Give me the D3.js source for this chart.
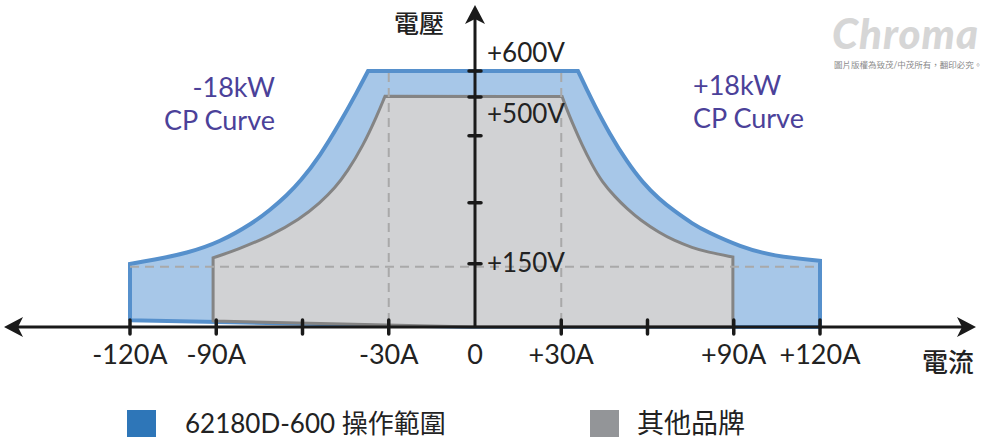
<!DOCTYPE html>
<html><head><meta charset="utf-8">
<script src="https://cdn.jsdelivr.net/npm/d3@7/dist/d3.min.js"></script>
<style>
html,body{margin:0;padding:0;background:#fff;}
svg{display:block;}
text{font-family:Lato,"Noto Sans CJK TC","Noto Sans",sans-serif;}
</style></head>
<body><svg id="chart" width="987" height="439"></svg>
<script>
// ---------- data ----------
const xTickValues = [-120, -90, -60, -30, 30, 60, 90, 120];
const xLabelValues = [-120, -90, -30, 0, 30, 90, 120];
const xLabelTexts = ["-120A", "-90A", "-30A", "0", "+30A", "+90A", "+120A"];
const yTickValues = [600, 539, 448, 291, 148];
const yLabelValues = [600, 500, 150];
const yLabelTexts = ["+600V", "+500V", "+150V"];

// 62180D-600 operating range (current A, voltage V)
const blueLeftI  = [-120, -112, -100.2, -88.7, -77.2, -71.3, -65.4, -60.9, -53.9, -47.0, -41.0, -37.2];
const blueLeftV  = [148, 157, 173, 199, 244, 274, 309, 340, 401, 478, 551, 600];
const blueRightI = [35.8, 39.3, 41.0, 47.0, 52.9, 58.1, 64.3, 68.9, 75.8, 80.7, 92.2, 103.7, 120];
const blueRightV = [600, 551, 527, 450, 387, 340, 298, 274, 241, 223, 188, 166, 155];
const blueBottomI = [120, 0, -120];
const blueBottomV = [0, 0, 16];

// other brands range
const grayLeftI  = [-91.1, -82.8, -71.3, -60.9, -53.9, -48.7, -44.5, -39.0, -34.1, -31.3];
const grayLeftV  = [162, 181, 213, 253, 291, 326, 363, 424, 495, 541];
const grayRightI = [30.3, 32.0, 33.7, 37.2, 40.7, 44.2, 48.7, 52.9, 57.4, 64.3, 68.9, 75.8, 80.7, 89.7];
const grayRightV = [540, 509, 481, 427, 380, 340, 305, 277, 251, 220, 204, 185, 176, 164];
const grayBottomI = [89.7, 0, -91.1];
const grayBottomV = [0, 0, 14];

const dashCurrents = [-30, 30];
const dashVoltage = 141;

const legendNames = ["62180D-600 操作範圍", "其他品牌"];
const legendColors = ["#2e76b8", "#939598"];

// ---------- drawing ----------
const svg = d3.select("#chart");
const x = d3.scaleLinear().domain([-120, 120]).range([130, 820]);
const y = d3.scaleLinear().domain([0, 600]).range([327, 71]);

const zip = (a, b) => a.map((v, i) => [v, b[i]]);
const curveGen = d3.line().x(d => x(d[0])).y(d => y(d[1])).curve(d3.curveBasis);
const linGen = d3.line().x(d => x(d[0])).y(d => y(d[1]));

function regionPath(leftPts, rightPts, bottomPts) {
  const start = [leftPts[0][0], bottomPts[bottomPts.length - 1][1]];
  let p = "M" + x(start[0]) + "," + y(start[1]);
  p += curveGen(leftPts).replace(/^M/, "L");
  p += curveGen(rightPts).replace(/^M/, "L");
  p += linGen(bottomPts).replace(/^M/, "L");
  return p + "Z";
}

svg.append("path")
  .attr("d", regionPath(zip(blueLeftI, blueLeftV), zip(blueRightI, blueRightV), zip(blueBottomI, blueBottomV)))
  .attr("fill", "#a7c7e8").attr("stroke", "#5690cc").attr("stroke-width", 4).attr("stroke-linejoin", "miter");

svg.append("path")
  .attr("d", regionPath(zip(grayLeftI, grayLeftV), zip(grayRightI, grayRightV), zip(grayBottomI, grayBottomV)))
  .attr("fill", "#d1d2d4").attr("stroke", "#848484").attr("stroke-width", 3).attr("stroke-linejoin", "miter");

// dashed guides
svg.selectAll(".vdash").data(dashCurrents).join("line")
  .attr("x1", d => x(d)).attr("x2", d => x(d))
  .attr("y1", y(600) + 2).attr("y2", y(0))
  .attr("stroke", "#a9a9a9").attr("stroke-width", 2).attr("stroke-dasharray", "9,6");
svg.append("line")
  .attr("x1", x(-120)).attr("x2", x(120))
  .attr("y1", y(dashVoltage)).attr("y2", y(dashVoltage))
  .attr("stroke", "#a9a9a9").attr("stroke-width", 2).attr("stroke-dasharray", "9,6");

// axes
const axisColor = "#1a1a1a";
const x0 = x(0), y0 = y(0);
svg.append("line").attr("x1", 12).attr("x2", 968).attr("y1", y0).attr("y2", y0)
  .attr("stroke", axisColor).attr("stroke-width", 3);
svg.append("line").attr("x1", x0).attr("x2", x0).attr("y1", y0).attr("y2", 14)
  .attr("stroke", axisColor).attr("stroke-width", 3);

function arrow(tx, ty, dir) {
  svg.append("path")
    .attr("d", "M0,0 L-19,-10 L-14,0 L-19,10 Z")
    .attr("fill", axisColor)
    .attr("transform", `translate(${tx},${ty}) rotate(${dir})`);
}
arrow(976, y0, 0);
arrow(4, y0, 180);
arrow(x0, 5, -90);

svg.selectAll(".xtick").data(xTickValues).join("line")
  .attr("x1", d => x(d)).attr("x2", d => x(d))
  .attr("y1", y0 - 7).attr("y2", y0 + 7)
  .attr("stroke", axisColor).attr("stroke-width", 3.5).attr("stroke-linecap", "round");
svg.selectAll(".ytick").data(yTickValues).join("line")
  .attr("x1", x0 - 6).attr("x2", x0 + 6)
  .attr("y1", d => y(d)).attr("y2", d => y(d))
  .attr("stroke", axisColor).attr("stroke-width", 3.5).attr("stroke-linecap", "round");

svg.selectAll(".xlab").data(xLabelValues).join("text")
  .attr("x", d => x(d)).attr("y", 364)
  .attr("text-anchor", "middle").attr("font-size", 27).attr("fill", "#222")
  .text((d, i) => xLabelTexts[i]);

svg.selectAll(".ylab").data(yLabelValues).join("text")
  .attr("x", x0 + 12)
  .attr("y", d => y(d) + (d === 600 ? -9 : 9))
  .attr("font-size", 26).attr("fill", "#222")
  .text((d, i) => yLabelTexts[i]);

svg.append("text").attr("x", 419).attr("y", 33).attr("text-anchor", "middle")
  .attr("font-size", 25).attr("font-family", "Noto Sans CJK TC").attr("font-weight", 500)
  .attr("fill", "#222").text("電壓");
svg.append("text").attr("x", 948).attr("y", 372).attr("text-anchor", "middle")
  .attr("font-size", 26).attr("font-family", "Noto Sans CJK TC").attr("font-weight", 500)
  .attr("fill", "#222").text("電流");

// CP curve annotations
const purple = "#4b4199";
svg.append("text").attr("x", 275).attr("y", 97).attr("text-anchor", "end")
  .attr("font-size", 27).attr("fill", purple).text("-18kW");
svg.append("text").attr("x", 275).attr("y", 130).attr("text-anchor", "end")
  .attr("font-size", 27).attr("fill", purple).text("CP Curve");
svg.append("text").attr("x", 693).attr("y", 95)
  .attr("font-size", 27).attr("fill", purple).text("+18kW");
svg.append("text").attr("x", 693).attr("y", 128)
  .attr("font-size", 27).attr("fill", purple).text("CP Curve");

// watermark
svg.append("text").attr("x", 832).attr("y", 49)
  .attr("font-size", 42).attr("font-weight", 900).attr("font-style", "italic")
  .attr("font-family", "Lato").attr("fill", "#d6d6d6").attr("letter-spacing", 1).text("Chroma");
svg.append("text").attr("x", 834).attr("y", 68)
  .attr("font-size", 8.5).attr("font-family", "Noto Sans CJK TC").attr("fill", "#8a8a8a")
  .text("圖片版權為致茂/中茂所有，翻印必究。");

// legend
const legendX = [127, 590];
const lg = svg.selectAll(".lg").data(legendNames).join("g")
  .attr("transform", (d, i) => `translate(${legendX[i]},410)`);
lg.append("rect").attr("width", 29).attr("height", 27).attr("fill", (d, i) => legendColors[i]);
lg.append("text").attr("x", (d, i) => i === 0 ? 58 : 47).attr("y", 23)
  .attr("font-size", (d, i) => i === 0 ? 26 : 27).attr("font-family", "Lato, 'Noto Sans CJK TC'")
  .attr("fill", "#222").text(d => d);
</script></body></html>
